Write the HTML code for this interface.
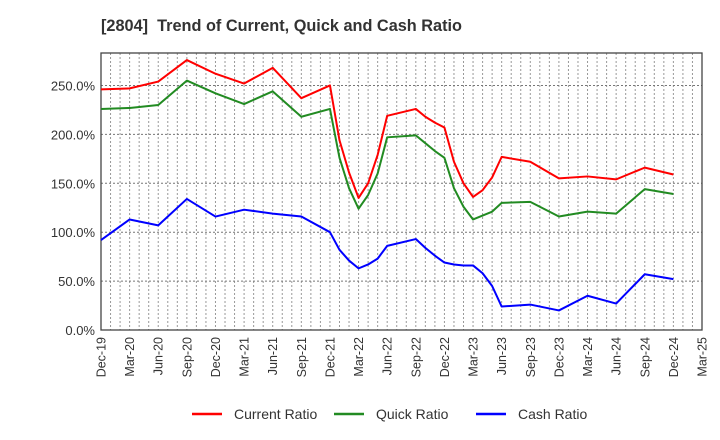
<!DOCTYPE html>
<html><head><meta charset="utf-8"><style>
body{margin:0;background:#fff;}
svg{display:block;font-family:"Liberation Sans",sans-serif;}
</style></head><body>
<svg id="chart" width="720" height="440">
<text x="101" y="31" font-size="16.3" font-weight="bold" fill="#333">[2804]&#160; Trend of Current, Quick and Cash Ratio</text>
<g id="grid"></g><g id="axes"></g><g id="series"></g>
<g>
<line x1="192" y1="414" x2="222" y2="414" stroke="#ff0000" stroke-width="2.5"/>
<text x="234" y="419" font-size="14" fill="#333">Current Ratio</text>
<line x1="334" y1="414" x2="364" y2="414" stroke="#228b22" stroke-width="2.5"/>
<text x="376" y="419" font-size="14" fill="#333">Quick Ratio</text>
<line x1="476" y1="414" x2="506" y2="414" stroke="#0000ff" stroke-width="2.5"/>
<text x="518" y="419" font-size="14" fill="#333">Cash Ratio</text>
</g>
</svg>
<script>
const monthIdx=[0,3,6,9,12,15,18,21,24,25,26,27,28,29,30,33,34,35,36,37,38,39,40,41,42,45,48,51,54,57,60];
const currentRatio=[246,247,254,276,262,252,268,237,250,194,161,135,150,179,219,226,218,212,207,172,150,136,143,156,177,172,155,157,154,166,159];
const quickRatio=[226,227,230,255,242,231,244,218,226,176,145,124,138,160,197,199,191,183,176,145,126,113,117,121,130,131,116,121,119,144,139];
const cashRatio=[92,113,107,134,116,123,119,116,100,82,71,63,67,73,86,93,84,76,69,67,66,66,58,45,24,26,20,35,27,57,52];
const yTicks=[0,50,100,150,200,250];
const xTickLabels=["Dec-19","Mar-20","Jun-20","Sep-20","Dec-20","Mar-21","Jun-21","Sep-21","Dec-21","Mar-22","Jun-22","Sep-22","Dec-22","Mar-23","Jun-23","Sep-23","Dec-23","Mar-24","Jun-24","Sep-24","Dec-24","Mar-25"];
const L=101,R=702,T=53,B=330,NM=63,YMAX=283.2;
const xs=m=>L+(R-L)*m/NM, ys=v=>B-(B-T)*v/YMAX;
const NS="http://www.w3.org/2000/svg";
function mk(tag,attrs,parent){const e=document.createElementNS(NS,tag);for(const k in attrs)e.setAttribute(k,attrs[k]);parent.appendChild(e);return e;}
const grid=document.getElementById('grid'),axes=document.getElementById('axes'),ser=document.getElementById('series');
for(let m=1;m<NM;m++){const l=mk('line',{x1:xs(m),x2:xs(m),y1:T,y2:B,stroke:'#999','stroke-width':1,'stroke-dasharray':'2,2'},grid);

}
yTicks.forEach(v=>{if(v>0){const l=mk('line',{x1:L,x2:R,y1:ys(v),y2:ys(v),stroke:'#777','stroke-width':1,'stroke-dasharray':'2,2'},grid);

}
const t=mk('text',{x:L-6,y:ys(v)+5,'text-anchor':'end','font-size':13,fill:'#333'},axes);t.textContent=v.toFixed(1)+'%';

});
xTickLabels.forEach((s,i)=>{const x=xs(i*3);const t=mk('text',{x:0,y:0,transform:`translate(${x+4.5},337) rotate(-90)`,'text-anchor':'end','font-size':12.5,fill:'#333'},axes);t.textContent=s;

});
const fr=mk('rect',{x:L,y:T,width:R-L,height:B-T,fill:'none',stroke:'#444','stroke-width':1.3},axes);


[[currentRatio,'#ff0000','current-ratio-line'],[quickRatio,'#228b22','quick-ratio-line'],[cashRatio,'#0000ff','cash-ratio-line']].forEach(([d,c,n])=>{
const p=mk('polyline',{points:d.map((v,i)=>xs(monthIdx[i])+','+ys(v)).join(' '),fill:'none',stroke:c,'stroke-width':2,'stroke-linejoin':'round'},ser);

});
</script>
</body></html>
